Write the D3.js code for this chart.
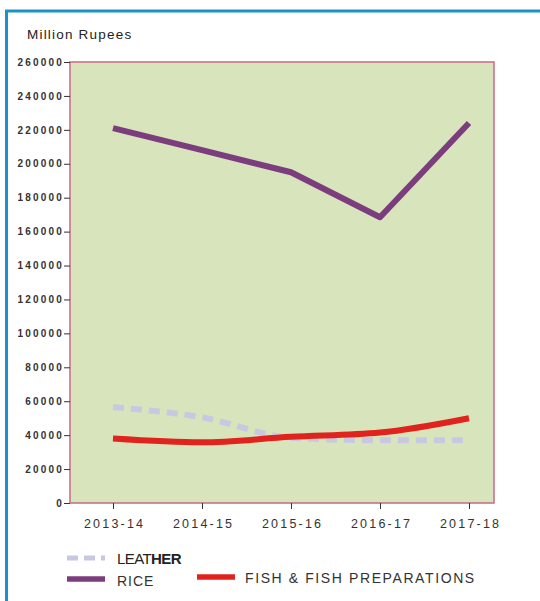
<!DOCTYPE html>
<html><head><meta charset="utf-8">
<script src="https://cdn.jsdelivr.net/npm/d3@7"></script>
<style>body{margin:0;background:#fff}svg{display:block}</style>
</head><body>
<svg id="c" width="540" height="601"></svg>
<script>
const years = ["2013-14","2014-15","2015-16","2016-17","2017-18"];
const rice = [221000, 208000, 195000, 168500, 224000];
const leather = [56500, 50500, 38500, 37000, 37000];
const fish = [38000, 35800, 39000, 41500, 50000];
const yTicks = [0,20000,40000,60000,80000,100000,120000,140000,160000,180000,200000,220000,240000,260000];

const svg = d3.select("#c");
const plot = {l:70, t:62, r:494, b:503};
const ff = "Arial, 'Liberation Sans', sans-serif";

// outer frame (blue)
svg.append("line").attr("x1",5).attr("x2",540).attr("y1",11).attr("y2",11).attr("stroke","#1b93c8").attr("stroke-width",3);
svg.append("line").attr("x1",6.5).attr("x2",6.5).attr("y1",10).attr("y2",601).attr("stroke","#1b93c8").attr("stroke-width",3);

svg.append("text").attr("x",27).attr("y",39).text("Million Rupees")
  .attr("font-family",ff).attr("font-size",13.5).attr("fill","#222").attr("letter-spacing","1.2");

const x = d3.scalePoint().domain(years).range([113,469]);
const y = d3.scaleLinear().domain([0,260000]).range([plot.b, plot.t]);

svg.append("rect").attr("x",plot.l).attr("y",plot.t).attr("width",plot.r-plot.l).attr("height",plot.b-plot.t)
  .attr("fill","#d7e4bc").attr("stroke","#c86a82").attr("stroke-width",1.5);

const ya = svg.append("g").attr("transform",`translate(${plot.l},0)`)
  .call(d3.axisLeft(y).tickValues(yTicks).tickSize(6).tickSizeOuter(0).tickFormat(d3.format("d")));
ya.select(".domain").remove();
ya.selectAll("line").attr("stroke","#333");
ya.selectAll("text").attr("font-family",ff).attr("font-size",10)
  .attr("font-weight","bold").attr("fill","#333").attr("letter-spacing","2.2").attr("x",-6);

const xa = svg.append("g").attr("transform",`translate(0,${plot.b})`)
  .call(d3.axisBottom(x).tickSize(6).tickSizeOuter(0).tickPadding(10));
xa.select(".domain").remove();
xa.selectAll("line").attr("stroke","#333");
xa.selectAll("text").attr("font-family",ff).attr("font-size",12.5)
  .attr("fill","#333").attr("letter-spacing","2.2").attr("dx","1.1");

const lineLin = d3.line().x((d,i)=>x(years[i])).y(d=>y(d));
const lineSm = d3.line().x((d,i)=>x(years[i])).y(d=>y(d)).curve(d3.curveMonotoneX);

svg.append("path").datum(leather).attr("d",lineSm).attr("fill","none")
  .attr("stroke","#c9c8e2").attr("stroke-width",6).attr("stroke-dasharray","11,7");
svg.append("path").datum(rice).attr("d",lineLin).attr("fill","none")
  .attr("stroke","#7c3d7e").attr("stroke-width",6).attr("stroke-linejoin","round");
svg.append("path").datum(fish).attr("d",lineSm).attr("fill","none")
  .attr("stroke","#e0231c").attr("stroke-width",6);

// legend
const leg = svg.append("g");
leg.append("line").attr("x1",67).attr("x2",105).attr("y1",558).attr("y2",558)
  .attr("stroke","#c9c8e2").attr("stroke-width",5).attr("stroke-dasharray","11,6");
const lt = leg.append("text").attr("x",117).attr("y",564).attr("font-family",ff)
  .attr("font-size",15).attr("fill","#222").attr("letter-spacing","-0.6");
lt.append("tspan").text("LEAT");
lt.append("tspan").attr("font-weight","bold").text("HER");
leg.append("line").attr("x1",67).attr("x2",105).attr("y1",579).attr("y2",579)
  .attr("stroke","#7c3d7e").attr("stroke-width",5.5);
leg.append("text").attr("x",117).attr("y",586).text("RICE").attr("font-family",ff)
  .attr("font-size",14).attr("fill","#333").attr("letter-spacing","1");
leg.append("line").attr("x1",197).attr("x2",235).attr("y1",577).attr("y2",577)
  .attr("stroke","#e0231c").attr("stroke-width",5.5);
leg.append("text").attr("x",245).attr("y",583).text("FISH & FISH PREPARATIONS").attr("font-family",ff)
  .attr("font-size",14).attr("fill","#333").attr("letter-spacing","1.6");
</script>
</body></html>
